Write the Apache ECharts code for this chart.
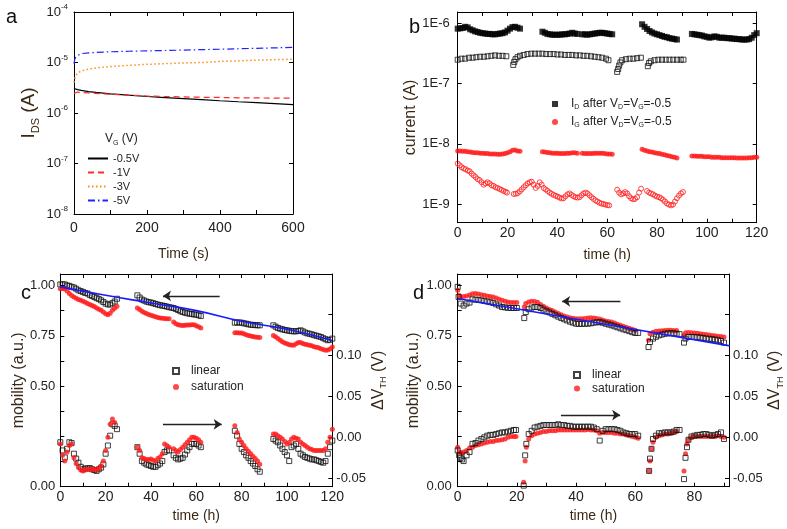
<!DOCTYPE html>
<html><head><meta charset="utf-8">
<script src="https://cdn.jsdelivr.net/npm/echarts@6/dist/echarts.min.js"></script>
<style>html,body{margin:0;padding:0;background:#fff}#c{width:787px;height:529px}</style>
</head><body><div id="c"></div>
<script>
// ---------- Panel a ----------
const aTime = [0,2,5,10,20,40,60,100,150,200,250,300,350,400,450,500,550,600];
const aI05 = [3.05e-6,3.0e-6,2.95e-6,2.9e-6,2.8e-6,2.65e-6,2.55e-6,2.4e-6,2.25e-6,2.12e-6,2.02e-6,1.93e-6,1.84e-6,1.75e-6,1.67e-6,1.6e-6,1.53e-6,1.46e-6];
const aI1  = [2.45e-6,2.55e-6,2.6e-6,2.6e-6,2.55e-6,2.5e-6,2.45e-6,2.35e-6,2.25e-6,2.17e-6,2.12e-6,2.08e-6,2.05e-6,2.03e-6,2.0e-6,1.99e-6,1.97e-6,1.96e-6];
const aI3  = [4.0e-6,4.8e-6,5.5e-6,6.2e-6,6.8e-6,7.4e-6,7.8e-6,8.3e-6,8.8e-6,9.2e-6,9.5e-6,9.8e-6,1.0e-5,1.05e-5,1.08e-5,1.11e-5,1.14e-5,1.16e-5];
const aI5  = [9.5e-6,1.15e-5,1.3e-5,1.42e-5,1.5e-5,1.55e-5,1.58e-5,1.63e-5,1.67e-5,1.7e-5,1.73e-5,1.76e-5,1.8e-5,1.83e-5,1.87e-5,1.91e-5,1.95e-5,1.99e-5];
const aNames = ['-0.5V','-1V','-3V','-5V'];

// ---------- Panel b ----------
const bIdFilled = [[0,8.2e-7],[1,8.3e-7],[2,8.4e-7],[3,8.8e-7],[4,8.6e-7],[5,8.0e-7],[6,7.7e-7],[7,7.4e-7],[8,7.2e-7],[9,7.0e-7],[10,6.9e-7],[11,6.8e-7],[12,6.7e-7],[13,6.7e-7],[14,6.6e-7],[15,6.6e-7],[16,6.7e-7],[17,6.8e-7],[18,6.9e-7],[19,7.1e-7],[20,7.6e-7],[21,8.2e-7],[22,8.7e-7],[23,8.8e-7],[24,8.5e-7],[25,8.2e-7],
[34,7.3e-7],[35,7.0e-7],[36,6.7e-7],[37,6.6e-7],[38,6.5e-7],[39,6.5e-7],[40,6.5e-7],[41,6.5e-7],[42,6.6e-7],[43,6.6e-7],[44,6.7e-7],[45,6.8e-7],[46,7.0e-7],[47,6.8e-7],[48,6.7e-7],
[50,6.6e-7],[51,6.6e-7],[52,6.5e-7],[53,6.6e-7],[54,6.7e-7],[55,6.8e-7],[56,6.9e-7],[57,7.0e-7],[58,7.0e-7],[59,6.9e-7],[60,6.8e-7],[61,6.7e-7],[62,6.6e-7],
[74,9.7e-7],[75,8.8e-7],[76,8.1e-7],[77,7.5e-7],[78,7.1e-7],[79,6.8e-7],[80,6.6e-7],[81,6.4e-7],[82,6.2e-7],[83,6.0e-7],[84,5.9e-7],[85,5.7e-7],[86,5.6e-7],[87,5.5e-7],[88,5.4e-7],
[94,6.7e-7],[95,6.6e-7],[96,6.5e-7],[97,6.4e-7],[98,6.3e-7],[99,6.1e-7],[100,6.0e-7],[101,5.8e-7],[102,5.9e-7],[103,6.1e-7],[104,6.0e-7],[105,5.8e-7],[106,5.8e-7],[107,5.8e-7],[108,5.7e-7],[109,5.7e-7],[110,5.6e-7],[111,5.6e-7],[112,5.5e-7],[113,5.5e-7],[114,5.4e-7],[115,5.4e-7],[116,5.4e-7],[117,5.5e-7],[118,5.8e-7],[119,6.4e-7],[120,6.9e-7]];
const bIdOpen = [[0,2.5e-7],[1.5,2.6e-7],[3,2.6e-7],[4.5,2.7e-7],[6,2.7e-7],[7.5,2.75e-7],[9,2.8e-7],[10.5,2.8e-7],[12,2.85e-7],[13.5,2.9e-7],[15,2.95e-7],[16.5,2.9e-7],[18,2.9e-7],[19.5,2.85e-7],
[22.3,2.05e-7],[22.7,2.3e-7],[23.2,2.55e-7],[24,2.75e-7],[25,2.9e-7],[26.5,3.0e-7],[28,3.1e-7],[29.5,3.15e-7],[31,3.15e-7],[32.5,3.15e-7],[34,3.15e-7],[35.5,3.1e-7],[37,3.1e-7],[38.5,3.1e-7],[40,3.05e-7],[41.5,3.05e-7],[43,3.0e-7],[44.5,3.0e-7],[46,3.0e-7],[47.5,2.95e-7],[49,2.95e-7],[50.5,2.9e-7],[52,2.9e-7],[53.5,2.85e-7],[55,2.8e-7],[56.5,2.75e-7],[58,2.7e-7],[59.5,2.6e-7],[60.5,2.45e-7],
[64,1.57e-7],[64.4,1.75e-7],[64.8,2.0e-7],[65.3,2.25e-7],[66,2.45e-7],[67.5,2.55e-7],[69,2.6e-7],[70.5,2.6e-7],[72,2.65e-7],[73.5,2.7e-7],
[76.3,1.95e-7],[76.8,2.2e-7],[77.5,2.35e-7],[79,2.45e-7],[80.5,2.5e-7],[82,2.5e-7],[83.5,2.5e-7],[85,2.5e-7],[86.5,2.5e-7],[88,2.5e-7],[89.5,2.5e-7],[90.6,2.5e-7]];
const bIgFilled = [[0,7.6e-9],[1,7.6e-9],[2,7.5e-9],[3,7.5e-9],[4,7.4e-9],[5,7.3e-9],[6,7.2e-9],[7,7.1e-9],[8,7.1e-9],[9,7.0e-9],[10,7.0e-9],[11,6.9e-9],[12,6.9e-9],[13,6.8e-9],[14,6.8e-9],[15,6.8e-9],[16,6.7e-9],[17,6.7e-9],[18,6.8e-9],[19,6.9e-9],[20,7.1e-9],[21,7.4e-9],[22,7.8e-9],[23,7.9e-9],[24,7.6e-9],[25,7.5e-9],
[34,7.4e-9],[35,7.3e-9],[36,7.2e-9],[37,7.1e-9],[38,7.0e-9],[39,7.0e-9],[40,7.0e-9],[41,6.9e-9],[42,6.9e-9],[43,6.9e-9],[44,7.0e-9],[45,7.0e-9],[46,7.1e-9],[47,7.1e-9],[48,7.0e-9],
[50,7.0e-9],[51,6.9e-9],[52,6.9e-9],[53,6.9e-9],[54,6.9e-9],[55,7.0e-9],[56,7.0e-9],[57,7.0e-9],[58,7.0e-9],[59,6.9e-9],[60,6.8e-9],[61,6.8e-9],[62,6.7e-9],
[74,8.1e-9],[75,7.8e-9],[76,7.6e-9],[77,7.4e-9],[78,7.3e-9],[79,7.1e-9],[80,7.0e-9],[81,6.9e-9],[82,6.7e-9],[83,6.6e-9],[84,6.4e-9],[85,6.3e-9],[86,6.1e-9],[87,6.0e-9],[88,5.8e-9],
[94,6.3e-9],[95,6.3e-9],[96,6.2e-9],[97,6.2e-9],[98,6.2e-9],[99,6.1e-9],[100,6.1e-9],[101,6.1e-9],[102,6.0e-9],[103,6.0e-9],[104,6.0e-9],[105,6.0e-9],[106,5.9e-9],[107,5.9e-9],[108,5.9e-9],[109,5.9e-9],[110,5.9e-9],[111,5.9e-9],[112,5.8e-9],[113,5.8e-9],[114,5.8e-9],[115,5.8e-9],[116,5.8e-9],[117,5.9e-9],[118,5.9e-9],[119,6.0e-9],[120,6.0e-9]];
const bIgOpen = [[0,4.7e-9],[0.8,4.4e-9],[1.6,4.1e-9],[2.4,3.9e-9],[3.2,3.8e-9],[4,3.6e-9],[4.8,3.5e-9],[5.6,3.2e-9],[6.4,3.0e-9],[7.2,2.8e-9],[8,2.6e-9],[8.8,2.5e-9],[9.6,2.3e-9],[10.4,2.1e-9],[11.2,2.2e-9],[12,2.3e-9],[12.8,2.2e-9],[13.6,2.05e-9],[14.4,2.0e-9],[15.2,1.9e-9],[16,1.85e-9],[16.8,1.78e-9],[17.6,1.72e-9],[18.4,1.65e-9],[19.2,1.6e-9],[19.8,1.55e-9],
[22.5,1.47e-9],[23.3,1.48e-9],[24.1,1.52e-9],[24.9,1.62e-9],[25.7,1.75e-9],[26.5,1.9e-9],[27.3,2.05e-9],[28.1,2.2e-9],[28.9,2.3e-9],[29.7,2.35e-9],[30.5,2.1e-9],[31.3,1.85e-9],[32.1,2.0e-9],[32.9,2.3e-9],[33.7,2.1e-9],[34.5,1.85e-9],[35.3,1.75e-9],[36.1,1.65e-9],[36.9,1.55e-9],[37.7,1.48e-9],[38.5,1.42e-9],[39.3,1.37e-9],[40.1,1.33e-9],[40.9,1.28e-9],[41.7,1.24e-9],[42.5,1.25e-9],[43.3,1.35e-9],[44.1,1.45e-9],[44.9,1.5e-9],[45.7,1.42e-9],[46.5,1.35e-9],[47.3,1.3e-9],[48.1,1.28e-9],[48.9,1.3e-9],[49.7,1.4e-9],[50.5,1.5e-9],[51.3,1.55e-9],[52.1,1.5e-9],[52.9,1.4e-9],[53.7,1.3e-9],[54.5,1.22e-9],[55.3,1.15e-9],[56.1,1.1e-9],[56.9,1.05e-9],[57.7,1.02e-9],[58.5,1.0e-9],[59.3,0.98e-9],[60.1,0.96e-9],[60.8,0.95e-9],
[64,1.73e-9],[64.8,1.55e-9],[65.6,1.45e-9],[66.4,1.5e-9],[67.2,1.58e-9],[68,1.5e-9],[68.8,1.35e-9],[69.6,1.25e-9],[70.4,1.2e-9],[71.2,1.22e-9],[72,1.3e-9],[72.8,1.55e-9],[73.6,1.8e-9],
[76,1.65e-9],[76.8,1.55e-9],[77.6,1.5e-9],[78.4,1.45e-9],[79.2,1.38e-9],[80,1.33e-9],[80.8,1.3e-9],[81.6,1.25e-9],[82.4,1.18e-9],[83.2,1.1e-9],[84,1.02e-9],[84.8,0.98e-9],[85.6,0.95e-9],[86.4,0.98e-9],[87.2,1.1e-9],[88,1.25e-9],[88.8,1.38e-9],[89.6,1.5e-9],[90.4,1.58e-9]];

// ---------- Panel c ----------
const cFit = [[0,0.993],[20,0.951],[40,0.913],[60,0.875],[80,0.822],[100,0.782],[120,0.727]];
const cLinMob = [[0,1.005],[1,1.006],[2,1.005],[3,1.0],[4,0.998],[5,0.993],[6,0.99],[7,0.984],[8,0.976],[9,0.972],[10,0.968],[11,0.963],[12,0.96],[13,0.953],[14,0.948],[15,0.943],[16,0.937],[17,0.932],[18,0.926],[19,0.918],[20,0.91],[21,0.906],[22,0.905],[23,0.912],[24,0.92],[25,0.934],
[34,0.951],[35,0.94],[36,0.93],[37,0.925],[38,0.92],[39,0.917],[40,0.915],[41,0.912],[42,0.908],[43,0.905],[44,0.902],[45,0.9],[46,0.898],[47,0.895],[48,0.892],[49,0.89],[50,0.888],[51,0.883],[52,0.878],[53,0.872],[54,0.868],[55,0.865],[56,0.862],[57,0.86],[58,0.858],[59,0.856],[60,0.855],[61,0.852],[62,0.848],
[77,0.815],[78,0.816],[79,0.816],[80,0.815],[81,0.812],[82,0.81],[83,0.807],[84,0.805],[85,0.804],[86,0.803],[87,0.802],[88,0.802],
[94,0.802],[95,0.795],[96,0.789],[97,0.785],[98,0.782],[99,0.779],[100,0.777],[101,0.775],[102,0.773],[103,0.772],[104,0.772],[105,0.774],[106,0.777],[107,0.772],[108,0.766],[109,0.762],[110,0.76],[111,0.757],[112,0.753],[113,0.75],[114,0.747],[115,0.744],[116,0.738],[117,0.733],[118,0.728],[119,0.73],[120,0.736]];
const cSatMob = [[0,0.984],[1,0.985],[2,0.983],[3,0.972],[4,0.96],[5,0.95],[6,0.943],[7,0.937],[8,0.93],[9,0.926],[10,0.921],[11,0.916],[12,0.91],[13,0.905],[14,0.9],[15,0.895],[16,0.888],[17,0.882],[18,0.877],[19,0.868],[20,0.86],[21,0.855],[22,0.862],[23,0.877],[24,0.887],[25,0.897],
[34,0.888],[35,0.88],[36,0.872],[37,0.866],[38,0.861],[39,0.856],[40,0.852],[41,0.848],[42,0.844],[43,0.841],[44,0.838],[45,0.837],[46,0.836],[47,0.835],[48,0.835],
[50,0.818],[51,0.81],[52,0.805],[53,0.802],[54,0.801],[55,0.802],[56,0.803],[57,0.804],[58,0.805],[59,0.805],[60,0.8],[61,0.795],[62,0.789],
[77,0.765],[78,0.765],[79,0.764],[80,0.764],[81,0.76],[82,0.755],[83,0.752],[84,0.749],[85,0.746],[86,0.744],[87,0.743],[88,0.742],
[94,0.752],[95,0.745],[96,0.736],[97,0.728],[98,0.72],[99,0.714],[100,0.71],[101,0.706],[102,0.704],[103,0.703],[104,0.71],[105,0.716],[106,0.716],[107,0.712],[108,0.708],[109,0.705],[110,0.703],[111,0.7],[112,0.696],[113,0.693],[114,0.69],[115,0.686],[116,0.682],[117,0.678],[118,0.679],[119,0.684],[120,0.694]];
const cLinVth = [[0,-0.006],[1,-0.016],[2,-0.0245],[3,-0.014],[4,-0.006],[5,-0.007],[6,-0.020],[7,-0.026],[8,-0.031],[9,-0.036],[10,-0.039],[11,-0.038],[12,-0.038],[13,-0.0375],[14,-0.039],[15,-0.040],[16,-0.041],[17,-0.039],[18,-0.037],[19,-0.033],[20,-0.020],[21,-0.010],[22,0.002],[23,0.016],[24,0.014],[25,0.010],
[34,-0.012],[35,-0.020],[36,-0.029],[37,-0.031],[38,-0.033],[39,-0.034],[40,-0.035],[41,-0.036],[42,-0.036],[43,-0.034],[44,-0.032],[45,-0.029],[46,-0.018],[47,-0.016],[48,-0.016],
[50,-0.022],[51,-0.025],[52,-0.027],[53,-0.026],[54,-0.025],[55,-0.021],[56,-0.016],[57,-0.012],[58,-0.008],[59,-0.008],[60,-0.008],[61,-0.010],[62,-0.012],
[77,0.008],[78,0.002],[79,-0.008],[80,-0.014],[81,-0.018],[82,-0.022],[83,-0.025],[84,-0.029],[85,-0.032],[86,-0.035],[87,-0.039],[88,-0.042],
[94,-0.002],[95,-0.004],[96,-0.006],[97,-0.010],[98,-0.014],[99,-0.018],[100,-0.022],[101,-0.029],[102,-0.012],[103,-0.010],[104,-0.008],[105,-0.014],[106,-0.020],[107,-0.022],[108,-0.024],[109,-0.025],[110,-0.026],[111,-0.027],[112,-0.027],[113,-0.028],[114,-0.029],[115,-0.030],[116,-0.031],[117,-0.029],[118,-0.020],[119,-0.012],[120,-0.004]];
const cSatVth = [[0,-0.008],[1,-0.022],[2,-0.029],[3,-0.018],[4,-0.010],[5,-0.008],[6,-0.025],[7,-0.032],[8,-0.037],[9,-0.040],[10,-0.041],[11,-0.040],[12,-0.039],[13,-0.039],[14,-0.039],[15,-0.039],[16,-0.040],[17,-0.038],[18,-0.035],[19,-0.029],[20,-0.016],[21,0.0],[22,0.016],[23,0.0225],[24,0.018],
[34,-0.012],[35,-0.016],[36,-0.025],[37,-0.026],[38,-0.027],[39,-0.027],[40,-0.0265],[41,-0.028],[42,-0.029],[43,-0.026],[44,-0.024],[45,-0.020],[46,-0.008],[47,-0.010],[48,-0.012],
[50,-0.014],[51,-0.016],[52,-0.018],[53,-0.015],[54,-0.012],[55,-0.009],[56,-0.006],[57,-0.003],[58,0.0],[59,0.0],[60,-0.001],[61,-0.003],[62,-0.006],
[77,0.014],[78,0.006],[79,-0.002],[80,-0.006],[81,-0.010],[82,-0.014],[83,-0.017],[84,-0.020],[85,-0.023],[86,-0.026],[87,-0.029],[88,-0.033],
[94,0.004],[95,0.004],[96,0.002],[97,0.0],[98,-0.002],[99,-0.005],[100,-0.008],[101,-0.006],[102,-0.002],[103,0.0],[104,-0.001],[105,-0.002],[106,-0.006],[107,-0.008],[108,-0.010],[109,-0.012],[110,-0.014],[111,-0.015],[112,-0.016],[113,-0.016],[114,-0.016],[115,-0.016],[116,-0.016],[117,-0.014],[118,-0.006],[119,0.0],[120,0.010]];

// ---------- Panel d ----------
const dFit = [[0,0.935],[46,0.817],[92,0.700]];
const dLinMob = [[0,0.993],[0.3,0.943],[1,0.91],[2,0.90],[3,0.91],[4,0.915],[5,0.931],[6,0.93],[7,0.928],[8,0.926],[9,0.923],[10,0.92],[11,0.917],[12,0.913],[13,0.906],[14,0.9],[15,0.893],[16,0.891],[17,0.889],[18,0.888],[19,0.888],[20,0.888],
[22.5,0.838],[23,0.868],[24,0.882],[25,0.89],[26,0.893],[27,0.893],[28,0.888],[29,0.88],[30,0.872],[31,0.866],[32,0.859],[33,0.852],[34,0.845],[35,0.838],[36,0.832],[37,0.826],[38,0.82],[39,0.815],[40,0.81],[41,0.809],[42,0.809],[43,0.81],[44,0.81],[45,0.812],[46,0.815],[47,0.817],[48,0.818],[49,0.815],[50,0.81],[51,0.806],[52,0.802],[53,0.797],[54,0.792],[55,0.787],[56,0.782],[57,0.778],[58,0.773],[59,0.768],[60,0.764],[61,0.764],
[64.5,0.694],[65,0.719],[66,0.736],[67,0.745],[68,0.752],[69,0.756],[70,0.76],[71,0.762],[72,0.763],[73,0.762],[74,0.76],[75,0.758],
[76.5,0.716],[77,0.736],[78,0.744],[79,0.744],[80,0.744],[81,0.743],[82,0.741],[83,0.739],[84,0.736],[85,0.735],[86,0.733],[87,0.731],[88,0.728],[89,0.724],[90,0.716]];
const dSatMob = [[0,0.976],[0.5,0.95],[1,0.943],[2,0.945],[3,0.948],[4,0.953],[5,0.959],[6,0.96],[7,0.958],[8,0.954],[9,0.951],[10,0.948],[11,0.945],[12,0.943],[13,0.938],[14,0.932],[15,0.926],[16,0.922],[17,0.918],[18,0.915],[19,0.915],[20,0.915],
[22.5,0.893],[23,0.91],[24,0.918],[25,0.921],[26,0.92],[27,0.916],[28,0.906],[29,0.897],[30,0.888],[31,0.881],[32,0.875],[33,0.868],[34,0.861],[35,0.855],[36,0.848],[37,0.843],[38,0.839],[39,0.837],[40,0.835],[41,0.834],[42,0.835],[43,0.836],[44,0.838],[45,0.839],[46,0.838],[47,0.836],[48,0.833],[49,0.828],[50,0.824],[51,0.821],[52,0.818],[53,0.813],[54,0.807],[55,0.802],[56,0.797],[57,0.792],[58,0.787],[59,0.782],[60,0.777],
[64.5,0.728],[65,0.76],[66,0.768],[67,0.772],[68,0.774],[69,0.775],[70,0.776],[71,0.777],[72,0.777],[73,0.776],[74,0.776],
[76.5,0.752],[77,0.765],[78,0.766],[79,0.765],[80,0.764],[81,0.762],[82,0.76],[83,0.758],[84,0.756],[85,0.754],[86,0.752],[87,0.75],[88,0.748],[89,0.746],[90,0.744]];
const dLinVth = [[0,-0.016],[0.5,-0.022],[1,-0.025],[1.5,-0.027],[2,-0.029],[3,-0.022],[4,-0.018],[5,-0.008],[6,-0.007],[7,-0.004],[8,-0.002],[9,0.0],[10,0.002],[11,0.003],[12,0.003],[13,0.004],[14,0.005],[15,0.006],[16,0.006],[17,0.007],[18,0.008],[19,0.009],[19.7,0.009],
[22.3,-0.059],[22.8,-0.022],[23.2,-0.008],[24,0.004],[25,0.008],[26,0.012],[27,0.013],[28,0.014],[29,0.015],[30,0.015],[31,0.015],[32,0.015],[33,0.015],[34,0.016],[35,0.015],[36,0.015],[37,0.014],[38,0.014],[39,0.013],[40,0.013],[41,0.013],[42,0.013],[43,0.013],[44,0.013],[45,0.013],[46,0.012],[47,0.010],[48,-0.004],[49,0.008],[50,0.010],[51,0.010],[52,0.010],[53,0.010],[54,0.009],[55,0.008],[56,0.006],[57,0.005],[58,0.004],[59,0.004],[60,0.004],[61,0.002],
[64.7,-0.041],[65,-0.026],[65.5,-0.014],[66,-0.002],[67,0.002],[68,0.005],[69,0.005],[70,0.006],[71,0.006],[72,0.006],[73,0.007],[74,0.009],[75,0.009],
[76.5,-0.051],[77,-0.025],[77.5,-0.012],[78,-0.003],[79,0.001],[80,0.002],[81,0.003],[82,0.003],[83,0.004],[84,0.004],[85,0.003],[86,0.002],[87,0.003],[88,0.004],[89,0.006],[90,-0.002]];
const dSatVth = [[0,-0.012],[0.5,-0.018],[1,-0.019],[1.5,-0.019],[2,-0.018],[3,-0.016],[4,-0.013],[5,-0.012],[6,-0.010],[7,-0.009],[8,-0.008],[9,-0.007],[10,-0.006],[11,-0.005],[12,-0.005],[13,-0.004],[14,-0.0036],[15,-0.003],[16,-0.002],[17,0.0],[18,0.001],[19,0.001],[19.7,0.001],
[22.3,-0.055],[22.8,-0.029],[23.2,-0.012],[24,-0.002],[25,0.002],[26,0.004],[27,0.005],[28,0.006],[29,0.007],[30,0.007],[31,0.008],[32,0.008],[33,0.008],[34,0.009],[35,0.009],[36,0.009],[37,0.009],[38,0.009],[39,0.009],[40,0.009],[41,0.009],[42,0.009],[43,0.009],[44,0.0095],[45,0.009],[46,0.009],[47,0.008],[48,0.005],[49,0.006],[50,0.006],[51,0.006],[52,0.006],[53,0.005],[54,0.005],[55,0.004],[56,0.004],[57,0.003],[58,0.002],[59,0.001],[60,0.0],[61,-0.001],
[64.7,-0.041],[65,-0.029],[65.5,-0.014],[66,-0.006],[67,0.0],[68,0.002],[69,0.003],[70,0.004],[71,0.004],[72,0.005],[73,0.006],[74,0.007],
[76.5,-0.041],[77,-0.020],[77.5,-0.008],[78,-0.003],[79,0.0],[80,0.001],[81,0.001],[82,0.001],[83,0.001],[84,0.001],[85,0.001],[86,0.001],[87,0.001],[88,0.002],[89,0.001],[90,0.000]];

// ---------- rendering ----------
const FONT = 'Arial, "Liberation Sans", sans-serif';
const TXT = '#222';
const NAMEC = '#3a2816';
const zip = (xs, ys) => xs.map((x, i) => [x, ys[i]]);
const isPow = v => { const e = Math.log10(v); return Math.abs(e - Math.round(e)) < 1e-6; };

function baseAxis(extra) {
  return Object.assign({
    axisLine: {show: true, onZero: false, lineStyle: {color: '#000', width: 1}},
    axisTick: {show: true, inside: true, length: 4, lineStyle: {color: '#000', width: 1}},
    splitLine: {show: false},
    axisLabel: {show: false},
    nameTextStyle: {fontFamily: FONT, color: NAMEC}
  }, extra);
}
const lbl = (o) => Object.assign({show: true, color: TXT, fontFamily: FONT, fontSize: 13}, o);

const chart = echarts.init(document.getElementById('c'), null, {renderer: 'canvas'});

const grids = [
  {left: 74, top: 12, width: 219, height: 202},
  {left: 457.7, top: 12, width: 299, height: 210.7},
  {left: 60.3, top: 274, width: 272, height: 212.7},
  {left: 457.7, top: 274, width: 271.3, height: 212.7}
];

const xAxes = [
  baseAxis({gridIndex: 0, type: 'value', min: 0, max: 600, interval: 100, position: 'bottom',
    axisLabel: lbl({fontSize: 14, margin: 7, formatter: v => v % 200 === 0 ? String(v) : ''}),
    name: 'Time (s)', nameLocation: 'middle', nameGap: 33, nameTextStyle: {fontFamily: FONT, fontSize: 14, color: NAMEC}}),
  baseAxis({gridIndex: 0, type: 'value', min: 0, max: 600, interval: 100, position: 'top'}),
  baseAxis({gridIndex: 1, type: 'value', min: 0, max: 120, interval: 10, position: 'bottom',
    axisLabel: lbl({fontSize: 14, margin: 3, formatter: v => v % 20 === 0 ? String(v) : ''}),
    name: 'time (h)', nameLocation: 'middle', nameGap: 25, nameTextStyle: {fontFamily: FONT, fontSize: 14, color: NAMEC}}),
  baseAxis({gridIndex: 1, type: 'value', min: 0, max: 120, interval: 10, position: 'top'}),
  baseAxis({gridIndex: 2, type: 'value', min: 0, max: 120, interval: 10, position: 'bottom',
    axisLabel: lbl({fontSize: 14, margin: 3, formatter: v => v % 20 === 0 ? String(v) : ''}),
    name: 'time (h)', nameLocation: 'middle', nameGap: 22, nameTextStyle: {fontFamily: FONT, fontSize: 14, color: NAMEC}}),
  baseAxis({gridIndex: 2, type: 'value', min: 0, max: 120, interval: 10, position: 'top'}),
  baseAxis({gridIndex: 3, type: 'value', min: 0, max: 91.7, interval: 10, position: 'bottom',
    axisLabel: lbl({fontSize: 14, margin: 3, formatter: v => (v % 20 === 0) ? String(v) : ''}),
    name: 'time (h)', nameLocation: 'middle', nameGap: 22, nameTextStyle: {fontFamily: FONT, fontSize: 14, color: NAMEC}}),
  baseAxis({gridIndex: 3, type: 'value', min: 0, max: 91.7, interval: 10, position: 'top'})
];

const logLabelA = v => isPow(v) ? '{b|10}{s|' + Math.round(Math.log10(v)) + '}' : '';
const logLabelB = v => isPow(v) ? '1E' + Math.round(Math.log10(v)) : '';
const mobLabel = v => (Math.abs(v - 0) < 1e-9 || Math.abs(v - 0.5) < 1e-9 || Math.abs(v - 0.75) < 1e-9 || Math.abs(v - 1) < 1e-9) ? v.toFixed(2) : '';
const vthLabel = v => { const r = Math.round(v * 1000) / 1000; return ([-0.05, 0, 0.05, 0.1].some(k => Math.abs(k - r) < 1e-6)) ? r.toFixed(2) : ''; };
const vthName = {fontFamily: FONT, color: NAMEC, rich: {n: {fontSize: 16, fontFamily: FONT, color: NAMEC, lineHeight: 20}, s: {fontSize: 9, fontFamily: FONT, color: NAMEC, verticalAlign: 'bottom', lineHeight: 10}}};

const yAxes = [
  baseAxis({gridIndex: 0, type: 'log', logBase: 10, min: 1e-8, max: 1e-4, position: 'left',
    axisLabel: lbl({margin: 6, formatter: logLabelA, rich: {b: {fontSize: 13, fontFamily: FONT, color: TXT, lineHeight: 18}, s: {fontSize: 8, fontFamily: FONT, color: TXT, verticalAlign: 'top', lineHeight: 10}}}),
    name: '{n|I}{s|DS}{n| (A)}', nameLocation: 'middle', nameGap: 33, nameRotate: 90,
    nameTextStyle: {fontFamily: FONT, color: NAMEC, rich: {n: {fontSize: 19, fontFamily: FONT, color: NAMEC, lineHeight: 24}, s: {fontSize: 11, fontFamily: FONT, color: NAMEC, verticalAlign: 'bottom', lineHeight: 12}}}}),
  baseAxis({gridIndex: 0, type: 'log', logBase: 10, min: 1e-8, max: 1e-4, position: 'right'}),
  baseAxis({gridIndex: 1, type: 'log', logBase: 10, min: 4.9e-10, max: 1.55e-6, position: 'left',
    axisLabel: lbl({margin: 8, formatter: logLabelB}),
    name: 'current (A)', nameLocation: 'middle', nameGap: 36, nameRotate: 90,
    nameTextStyle: {fontFamily: FONT, fontSize: 16, color: NAMEC}}),
  baseAxis({gridIndex: 1, type: 'log', logBase: 10, min: 4.9e-10, max: 1.55e-6, position: 'right'}),
  baseAxis({gridIndex: 2, type: 'value', min: 0, max: 1.057, interval: 0.125, position: 'left',
    axisLabel: lbl({margin: 5, formatter: mobLabel}),
    name: 'mobility (a.u.)', nameLocation: 'middle', nameGap: 34, nameRotate: 90,
    nameTextStyle: {fontFamily: FONT, fontSize: 16, color: NAMEC}}),
  baseAxis({gridIndex: 2, type: 'value', min: -0.0603, max: 0.1995, position: 'right',
    axisLabel: lbl({margin: 4, formatter: vthLabel}),
    name: '{n|ΔV}{s|TH}{n| (V)}', nameLocation: 'middle', nameGap: 36, nameRotate: 90,
    nameTextStyle: vthName}),
  baseAxis({gridIndex: 3, type: 'value', min: 0, max: 1.057, interval: 0.125, position: 'left',
    axisLabel: lbl({margin: 6, formatter: mobLabel}),
    name: 'mobility (a.u.)', nameLocation: 'middle', nameGap: 36, nameRotate: 90,
    nameTextStyle: {fontFamily: FONT, fontSize: 16, color: NAMEC}}),
  baseAxis({gridIndex: 3, type: 'value', min: -0.0603, max: 0.1995, position: 'right',
    axisLabel: lbl({margin: 4, formatter: vthLabel}),
    name: '{n|ΔV}{s|TH}{n| (V)}', nameLocation: 'middle', nameGap: 30, nameRotate: 90,
    nameTextStyle: vthName})
];

const lineS = (name, data, color, type, width) => ({
  type: 'line', name, xAxisIndex: 0, yAxisIndex: 0, data, symbol: 'none', showSymbol: false,
  lineStyle: {color, type, width}, itemStyle: {color}, silent: true
});
const openSq = (name, data, xi, yi, size) => ({
  type: 'scatter', name, xAxisIndex: xi, yAxisIndex: yi, data, symbol: 'rect', symbolSize: size || 5,
  itemStyle: {color: 'rgba(255,255,255,0)', borderColor: '#111', borderWidth: 1}, silent: true
});
const filled = (name, data, xi, yi, color, sym, size) => ({
  type: 'scatter', name, xAxisIndex: xi, yAxisIndex: yi, data, symbol: sym, symbolSize: size,
  itemStyle: {color}, silent: true
});
const openCirc = (name, data, xi, yi) => ({
  type: 'scatter', name, xAxisIndex: xi, yAxisIndex: yi, data, symbol: 'circle', symbolSize: 5,
  itemStyle: {color: 'rgba(255,255,255,0)', borderColor: '#ff1a1a', borderWidth: 1}, silent: true
});
const arrowLine = (from, to) => ({
  symbol: ['none', 'arrow'], symbolSize: 8, silent: true, animation: false,
  label: {show: false}, lineStyle: {color: '#222', width: 1.3, type: 'solid'},
  itemStyle: {color: '#222'},
  data: [[{coord: from}, {coord: to}]]
});

const series = [
  lineS(aNames[0], zip(aTime, aI05), '#000000', 'solid', 1.2),
  lineS(aNames[1], zip(aTime, aI1), '#ff2a2a', [6, 4], 1.2),
  lineS(aNames[2], zip(aTime, aI3), '#ff8c1a', [1.5, 2.5], 1.5),
  lineS(aNames[3], zip(aTime, aI5), '#2222ff', [7, 3, 1.5, 3], 1.2),

  filled('ID', bIdFilled, 2, 2, '#000', 'rect', 6),
  openSq('IDopen', bIdOpen, 2, 2, 5),
  filled('IG', bIgFilled, 2, 2, '#ff1a1a', 'circle', 5),
  openCirc('IGopen', bIgOpen, 2, 2),

  openSq('linear', cLinMob, 4, 4, 5),
  filled('saturation', cSatMob, 4, 4, '#ff1a1a', 'circle', 5),
  openSq('linear', cLinVth, 4, 5, 5),
  filled('saturation', cSatVth, 4, 5, '#ff1a1a', 'circle', 5),
  {type: 'line', name: 'fitc', xAxisIndex: 4, yAxisIndex: 4, data: cFit, symbol: 'none', smooth: true,
    lineStyle: {color: '#1a1aff', width: 1.6}, silent: true, z: 5,
    markLine: arrowLine([70.3, 0.948], [45.3, 0.948])},
  {type: 'line', name: 'arrc', xAxisIndex: 4, yAxisIndex: 4, data: [[0, -1]], symbol: 'none', silent: true,
    lineStyle: {opacity: 0},
    markLine: arrowLine([45.3, 0.31], [71.2, 0.31])},

  filled('saturation', dSatMob, 6, 6, '#ff1a1a', 'circle', 5),
  openSq('linear', dLinMob, 6, 6, 5),
  filled('saturation', dSatVth, 6, 7, '#ff1a1a', 'circle', 5),
  openSq('linear', dLinVth, 6, 7, 5),
  {type: 'line', name: 'fitd', xAxisIndex: 6, yAxisIndex: 6, data: dFit, symbol: 'none',
    lineStyle: {color: '#1a1aff', width: 1.6}, silent: true, z: 5,
    markLine: arrowLine([55, 0.921], [35.3, 0.921])},
  {type: 'line', name: 'arrd', xAxisIndex: 6, yAxisIndex: 6, data: [[0, -1]], symbol: 'none', silent: true,
    lineStyle: {opacity: 0},
    markLine: arrowLine([34.9, 0.356], [54.9, 0.356])}
];

const legendText = {fontFamily: FONT, color: TXT};
const option = {
  animation: false,
  backgroundColor: '#fff',
  textStyle: {fontFamily: FONT},
  grid: grids,
  xAxis: xAxes,
  yAxis: yAxes,
  title: [
    {text: 'a', left: 1, top: 2, textStyle: {fontSize: 20, fontWeight: 'normal', color: '#111', fontFamily: FONT}},
    {text: 'b', left: 404, top: 12, textStyle: {fontSize: 20, fontWeight: 'normal', color: '#111', fontFamily: FONT}},
    {text: 'c', left: 16, top: 278, textStyle: {fontSize: 20, fontWeight: 'normal', color: '#111', fontFamily: FONT}},
    {text: 'd', left: 408, top: 278, textStyle: {fontSize: 20, fontWeight: 'normal', color: '#111', fontFamily: FONT}},
    {text: '{n|V}{s|G}{n| (V)}', left: 100, top: 126, textStyle: {fontWeight: 'normal', rich: {n: {fontSize: 12, fontWeight: 'normal', fontFamily: FONT, color: TXT, lineHeight: 16}, s: {fontSize: 7, fontWeight: 'normal', fontFamily: FONT, color: TXT, verticalAlign: 'bottom', lineHeight: 9}}}}
  ],
  legend: [
    {data: aNames, orient: 'vertical', left: 82, top: 148, itemWidth: 20, itemHeight: 10, itemGap: 3,
      itemStyle: {opacity: 0, borderWidth: 0},
      textStyle: Object.assign({fontSize: 11}, legendText), selectedMode: false},
    {data: [{name: 'ID', icon: 'rect'}, {name: 'IG', icon: 'circle'}], orient: 'vertical', left: 547, top: 93,
      itemWidth: 6, itemHeight: 6, itemGap: 5, selectedMode: false,
      formatter: n => n === 'ID' ? '{g|}{n|I}{s|D}{n| after V}{s|D}{n|=V}{s|G}{n|=-0.5}' : '{g|}{n|I}{s|G}{n| after V}{s|D}{n|=V}{s|G}{n|=-0.5}',
      textStyle: {rich: {g: {width: 8}, n: {fontSize: 12, fontFamily: FONT, color: TXT, lineHeight: 14}, s: {fontSize: 7, fontFamily: FONT, color: TXT, verticalAlign: 'bottom', lineHeight: 8}}}},
    {data: [{name: 'linear', icon: 'rect'}, {name: 'saturation', icon: 'circle'}], orient: 'vertical', left: 167, top: 360,
      itemWidth: 6, itemHeight: 6, itemGap: 4, selectedMode: false,
      formatter: n => '{g|}{n|' + n + '}',
      textStyle: {rich: {g: {width: 7}, n: {fontSize: 12, fontFamily: FONT, color: TXT, lineHeight: 13}}}},
    {data: [{name: 'linear', icon: 'rect'}, {name: 'saturation', icon: 'circle'}], orient: 'vertical', left: 568, top: 364,
      itemWidth: 6, itemHeight: 6, itemGap: 1.5, selectedMode: false,
      formatter: n => '{g|}{n|' + n + '}',
      textStyle: {rich: {g: {width: 7}, n: {fontSize: 12, fontFamily: FONT, color: TXT, lineHeight: 13}}}}
  ],
  series
};
chart.setOption(option);
</script></body></html>
